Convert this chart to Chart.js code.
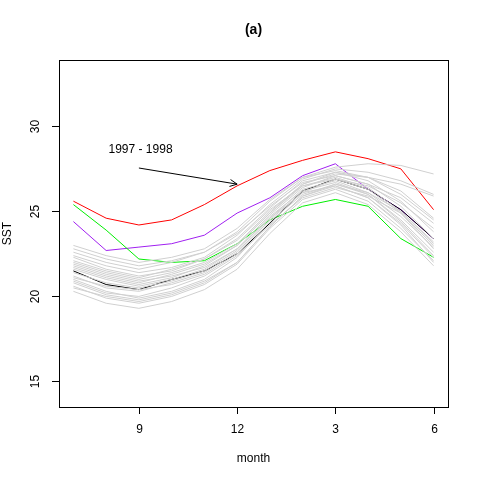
<!DOCTYPE html>
<html><head><meta charset="utf-8">
<script src="https://cdn.jsdelivr.net/npm/chart.js@4"></script>
<style>body{margin:0;background:#fff}</style></head>
<body><canvas id="c" width="480" height="480"></canvas>
<script>
const months = ['7','8','9','10','11','12','1','2','3','4','5','6'];
const tickMonths = [2, 5, 8, 11]; // index of 9, 12, 3, 6
const yTicks = [15, 20, 25, 30];

const red    = [25.6,24.6,24.2,24.5,25.4,26.5,27.4,28.0,28.5,28.1,27.5,25.1];
const purple = [24.4,22.7,22.9,23.1,23.6,24.9,25.8,27.1,27.8,26.3,25.1,23.4];
const green  = [25.4,23.9,22.2,22.0,22.1,23.1,24.5,25.3,25.7,25.3,23.4,22.3];
const black  = [21.5,20.7,20.4,21.0,21.5,22.5,24.3,26.2,26.9,26.3,25.1,23.4];

const grays = [
  [21.0,20.3,19.9,20.3,21.0,22.3,24.4,26.0,26.6,26.0,24.5,22.6],
  [21.8,21.2,20.8,21.3,21.9,23.0,24.9,26.5,27.0,26.4,25.0,23.1],
  [22.3,21.6,21.2,21.5,22.2,23.4,25.2,26.8,27.3,26.8,25.6,23.8],
  [20.6,19.9,19.6,20.0,20.7,21.9,24.0,25.7,26.3,25.6,24.0,22.1],
  [21.2,20.5,20.3,20.8,21.4,22.6,24.6,26.3,26.8,26.1,24.7,22.9],
  [22.6,22.0,21.6,22.0,22.6,23.8,25.6,27.0,27.4,27.0,26.2,24.6],
  [20.3,19.6,19.3,19.7,20.4,21.6,23.7,25.5,26.1,25.4,23.8,21.8],
  [21.6,21.0,20.6,21.0,21.6,22.8,24.8,26.4,27.1,26.6,25.3,23.4],
  [22.0,21.4,21.0,21.4,22.0,23.1,25.0,26.6,27.2,27.0,26.6,25.9],
  [21.4,20.8,20.5,20.9,21.5,22.7,24.7,26.2,26.7,26.0,24.4,22.4],
  [23.0,22.4,22.0,22.3,22.8,24.0,25.7,27.0,27.6,27.8,27.7,27.2],
  [20.9,20.2,20.0,20.5,21.2,22.4,24.2,25.8,26.4,25.9,24.9,23.0],
  [21.9,21.3,20.9,21.2,21.7,22.8,24.6,26.1,26.5,25.8,24.2,22.0],
  [22.4,21.8,21.4,21.7,22.3,23.6,25.4,26.9,27.5,27.3,26.8,26.0],
  [21.1,20.6,20.4,20.7,21.3,22.5,24.5,26.1,26.9,26.5,25.5,24.0],
  [20.8,20.1,19.8,20.2,20.9,22.0,24.1,25.9,26.5,25.8,24.3,22.3],
  [22.1,21.5,21.1,21.6,22.2,23.3,25.1,26.5,26.9,26.3,24.9,22.8],
  [21.7,21.1,20.7,21.1,21.8,23.0,24.9,26.6,27.3,27.0,26.0,24.5],
  [20.5,20.0,19.7,20.1,20.8,22.0,24.1,25.9,26.6,26.1,25.0,23.2],
  [22.8,22.2,21.8,22.1,22.6,23.7,25.3,26.7,27.1,26.6,25.8,24.3]
];

const toPts = a => a.map((v, i) => ({x: i, y: v}));
const ds = grays.map(g => ({data: toPts(g), borderColor: '#d0d0d0', borderWidth: 1, pointRadius: 0}));
[[black,'#000000'],[green,'#00ee00'],[purple,'#a020f0'],[red,'#ff0000']].forEach(([a,c]) =>
  ds.push({data: toPts(a), borderColor: c, borderWidth: 1, pointRadius: 0}));

const frame = {
  id: 'frame',
  afterDraw(chart) {
    const {ctx, chartArea: ca, scales: {x, y}} = chart;
    ctx.save();
    ctx.strokeStyle = '#000'; ctx.lineWidth = 1;
    ctx.strokeRect(ca.left + 0.5, ca.top + 0.5, ca.right - ca.left, ca.bottom - ca.top);
    ctx.fillStyle = '#000'; ctx.font = '12px Arial, "Liberation Sans"';
    ctx.textAlign = 'center'; ctx.textBaseline = 'top';
    tickMonths.forEach(i => {
      const px = Math.round(x.getPixelForValue(i)) + 0.5;
      ctx.beginPath(); ctx.moveTo(px, ca.bottom); ctx.lineTo(px, ca.bottom + 7); ctx.stroke();
      ctx.fillText(months[i], px, ca.bottom + 17);
    });
    yTicks.forEach(v => {
      const py = Math.round(y.getPixelForValue(v)) + 0.5;
      ctx.beginPath(); ctx.moveTo(ca.left, py); ctx.lineTo(ca.left - 7, py); ctx.stroke();
      ctx.save(); ctx.translate(ca.left - 17, py); ctx.rotate(-Math.PI / 2);
      ctx.textBaseline = 'bottom'; ctx.fillText(String(v), 0, 0); ctx.restore();
    });
    ctx.fillText('month', (ca.left + ca.right) / 2, ca.bottom + 46);
    ctx.save(); ctx.translate(ca.left - 45, (ca.top + ca.bottom) / 2); ctx.rotate(-Math.PI / 2);
    ctx.textBaseline = 'bottom'; ctx.fillText('SST', 0, 0); ctx.restore();
    ctx.font = 'bold 14px Arial, "Liberation Sans"';
    ctx.fillText('(a)', (ca.left + ca.right) / 2, 23);
    // annotation
    ctx.font = '12px Arial, "Liberation Sans"';
    ctx.textBaseline = 'middle';
    ctx.fillText('1997 - 1998', x.getPixelForValue(2.05), y.getPixelForValue(28.6));
    const x0 = x.getPixelForValue(2), y0 = y.getPixelForValue(27.55);
    const x1 = x.getPixelForValue(5), y1 = y.getPixelForValue(26.6);
    ctx.beginPath(); ctx.moveTo(x0, y0); ctx.lineTo(x1, y1);
    const ang = Math.atan2(y1 - y0, x1 - x0);
    ctx.moveTo(x1 - 8 * Math.cos(ang - 0.45), y1 - 8 * Math.sin(ang - 0.45));
    ctx.lineTo(x1, y1);
    ctx.lineTo(x1 - 8 * Math.cos(ang + 0.45), y1 - 8 * Math.sin(ang + 0.45));
    ctx.stroke();
    ctx.restore();
  }
};

new Chart(document.getElementById('c'), {
  type: 'line',
  data: {datasets: ds},
  options: {
    responsive: false, animation: false,
    layout: {padding: {left: 59, right: 32, top: 60, bottom: 73}},
    plugins: {legend: {display: false}, tooltip: {enabled: false}},
    scales: {
      x: {type: 'linear', min: -0.44, max: 11.44, display: false},
      y: {min: 13.5, max: 33.9, display: false}
    }
  },
  plugins: [frame]
});
</script></body></html>
